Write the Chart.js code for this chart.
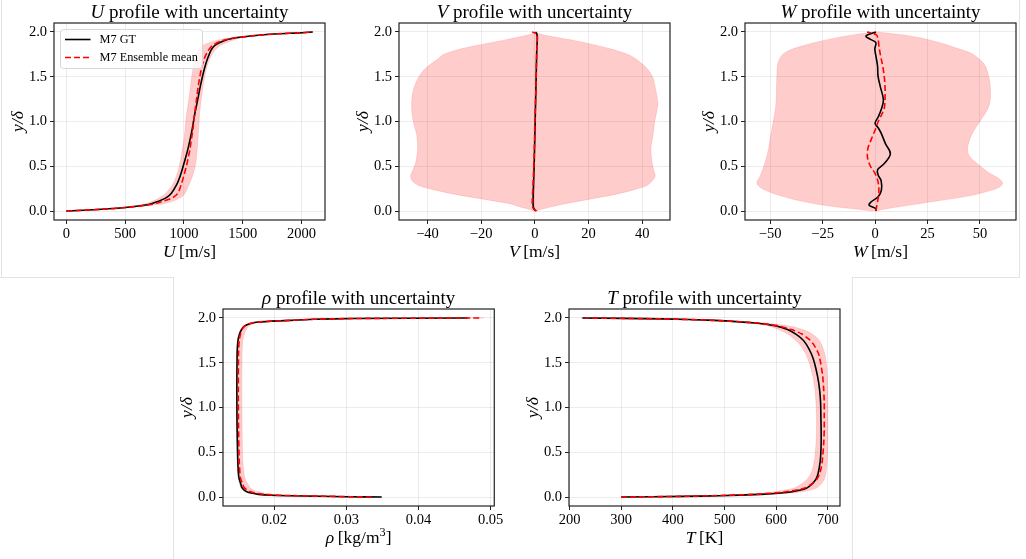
<!DOCTYPE html>
<html>
<head>
<meta charset="utf-8">
<script src="https://cdn.jsdelivr.net/npm/chart.js@4.4.1/dist/chart.umd.min.js"></script>
<style>
html, body { margin: 0; padding: 0; background: #fff; }
#page { position: relative; width: 1026px; height: 559px; overflow: hidden; background: #fff; }
#page canvas { position: absolute; }
.rule { position: absolute; background: #e3e3e3; }
</style>
</head>
<body>
<div id="page">
  <div class="rule" style="left:1px;top:0;width:1px;height:277px"></div>
  <div class="rule" style="left:1019px;top:0;width:1px;height:277px"></div>
  <div class="rule" style="left:0;top:277px;width:174px;height:1px"></div>
  <div class="rule" style="left:852px;top:277px;width:168px;height:1px"></div>
  <div class="rule" style="left:173px;top:277px;width:1px;height:282px"></div>
  <div class="rule" style="left:852px;top:277px;width:1px;height:282px"></div>
  <canvas id="cU"></canvas>
  <canvas id="cV"></canvas>
  <canvas id="cW"></canvas>
  <canvas id="cR"></canvas>
  <canvas id="cT"></canvas>
</div>
<script>
// ---- data ----
const Y_TICKS = [0, 0.5, 1.0, 1.5, 2.0];

// U profile
const U_XTICKS = [0, 500, 1000, 1500, 2000];
const U_Y    = [0, 0.02, 0.04, 0.07, 0.1, 0.15, 0.2, 0.3, 0.4, 0.5, 0.6, 0.7, 0.8, 0.9, 1.0, 1.1, 1.2, 1.3, 1.4, 1.5, 1.6, 1.7, 1.8, 1.85, 1.9, 1.93, 1.96, 1.98, 1.99, 2.0];
const U_GT   = [0, 300, 500, 690, 765, 850, 893, 940, 970, 993, 1015, 1035, 1052, 1068, 1081, 1094, 1110, 1125, 1140, 1157, 1176, 1200, 1232, 1262, 1335, 1420, 1610, 1800, 1980, 2094];
const U_MEAN = [0, 300, 505, 705, 800, 905, 948, 978, 1000, 1020, 1037, 1052, 1063, 1075, 1083, 1092, 1102, 1112, 1122, 1135, 1150, 1172, 1210, 1245, 1320, 1410, 1605, 1800, 1980, 2094];
const U_LO   = [0, 280, 470, 640, 715, 795, 845, 905, 938, 960, 975, 988, 1000, 1008, 1015, 1024, 1036, 1046, 1056, 1066, 1078, 1092, 1120, 1160, 1260, 1370, 1580, 1780, 1970, 2090];
const U_HI   = [0, 330, 545, 770, 885, 972, 1010, 1045, 1075, 1095, 1106, 1113, 1119, 1124, 1129, 1134, 1142, 1152, 1163, 1176, 1192, 1220, 1266, 1310, 1400, 1470, 1640, 1830, 1995, 2100];

// V profile
const V_XTICKS = [-40, -20, 0, 20, 40];
const V_BAND_Y = [0, 0.01, 0.05, 0.08, 0.13, 0.2, 0.28, 0.33, 0.39, 0.45, 0.55, 0.7, 0.85, 1.0, 1.1, 1.2, 1.35, 1.5, 1.6, 1.7, 1.75, 1.82, 1.9, 1.95, 1.98, 2.0];
const V_LO = [-0.5, -1, -6, -9, -18.7, -32, -42.8, -45.5, -46.3, -45.5, -44.3, -43.7, -44, -45.3, -45.8, -45.9, -45.3, -43.2, -40.5, -36, -33.9, -26.3, -13, -5, -1, 0];
const V_HI = [0.5, 1.2, 6.5, 11, 20, 32, 41.3, 43.5, 44.8, 44.3, 43.6, 43.2, 44, 44.6, 45.3, 45.8, 45, 43.8, 41.5, 37.5, 34.5, 27, 15.5, 6, 1.5, 0.5];
const V_GT_Y = [0, 0.02, 0.05, 0.1, 0.3, 0.6, 1.0, 1.4, 1.8, 1.93, 1.98, 2.0];
const V_GT   = [0.4, -0.2, -0.6, -0.7, -0.5, -0.2, 0.1, 0.4, 0.7, 0.9, 0.7, 0.2];
const V_MEAN_Y = [0, 0.02, 0.05, 0.1, 0.3, 0.6, 1.0, 1.4, 1.8, 1.93, 1.97, 1.99, 2.0];
const V_MEAN   = [0.6, -0.4, -0.9, -1.0, -0.7, -0.3, 0.0, 0.4, 0.7, 0.9, 0.8, -0.1, -1.0];

// W profile
const W_XTICKS = [-50, -25, 0, 25, 50];
const W_BAND_Y = [0, 0.02, 0.05, 0.1, 0.17, 0.24, 0.28, 0.32, 0.38, 0.44, 0.5, 0.62, 0.73, 0.88, 1.0, 1.18, 1.37, 1.52, 1.63, 1.7, 1.76, 1.82, 1.88, 1.95, 2.0];
const W_LO = [-1, -8, -20, -33, -45, -53, -55.5, -56.3, -55, -54, -53, -51.5, -50.5, -49.5, -48.5, -47.3, -47, -46.8, -46.5, -45.5, -43.5, -38, -29, -15, 0];
const W_HI = [0.5, 4, 12, 26, 45, 56.5, 60, 60.8, 58, 53.5, 50.3, 44.8, 44.3, 46.7, 50, 54.4, 55, 54, 52.3, 49.5, 46, 38.8, 31, 18, 1];
const W_GT_Y = [0, 0.026, 0.064, 0.1, 0.16, 0.23, 0.34, 0.4, 0.46, 0.53, 0.64, 0.75, 0.87, 0.93, 0.98, 1.05, 1.13, 1.24, 1.39, 1.51, 1.62, 1.72, 1.81, 1.88, 1.92, 1.955, 2.0];
const W_GT   = [0.4, 0.4, -2.8, -2.0, 1.5, 3.0, 2.9, 1.5, 1.2, 4.4, 7.3, 5, 2.9, 1.5, 0.0, 1.5, 2.9, 4.0, 2.5, 1.4, 1.2, 0.5, -0.1, 0.4, -2.4, -4.3, 0.4];
const W_MEAN_Y = [0, 0.08, 0.2, 0.32, 0.42, 0.5, 0.6, 0.7, 0.8, 0.92, 1.0, 1.07, 1.15, 1.3, 1.45, 1.6, 1.75, 1.85, 1.93, 1.97, 2.0];
const W_MEAN   = [0.4, 1.0, 1.8, 1.5, 0.0, -2.2, -3.6, -3.4, -1.8, 0.3, 1.5, 3.0, 4.4, 4.8, 4.6, 3.8, 2.5, 1.8, 1.4, 0.5, -3.8];

// rho profile
const R_XTICKS = [0.02, 0.03, 0.04, 0.05];
const R_Y    = [0, 0.004, 0.009, 0.015, 0.02, 0.03, 0.045, 0.06, 0.08, 0.11, 0.15, 0.22, 0.4, 0.8, 1.2, 1.6, 1.75, 1.83, 1.88, 1.91, 1.935, 1.955, 1.97, 1.985, 1.994, 2.0];
const R_GT   = [0.0349, 0.0300, 0.0262, 0.0220, 0.0195, 0.0178, 0.0168, 0.0162, 0.0158, 0.0155, 0.01535, 0.0151, 0.01495, 0.01485, 0.01482, 0.01486, 0.01498, 0.01523, 0.01555, 0.0159, 0.0166, 0.0178, 0.0215, 0.0255, 0.031, 0.0468];
const R_MEAN = [0.0335, 0.0305, 0.0272, 0.0232, 0.0206, 0.0186, 0.0174, 0.0167, 0.0162, 0.0158, 0.0156, 0.0153, 0.01515, 0.01505, 0.01502, 0.01505, 0.01515, 0.01535, 0.0156, 0.0159, 0.0165, 0.0177, 0.0213, 0.0255, 0.031, 0.0487];
const R_LO   = [0.0335, 0.0290, 0.0255, 0.0215, 0.0192, 0.0175, 0.0166, 0.0160, 0.0156, 0.0153, 0.0152, 0.01497, 0.01485, 0.01478, 0.01476, 0.01478, 0.01488, 0.0151, 0.0154, 0.0157, 0.0163, 0.0175, 0.0210, 0.0250, 0.0305, 0.0465];
const R_HI   = [0.0337, 0.0318, 0.0290, 0.0250, 0.0222, 0.0200, 0.0186, 0.0178, 0.0171, 0.0166, 0.0163, 0.0159, 0.01565, 0.01555, 0.01552, 0.01555, 0.01565, 0.0159, 0.0162, 0.0165, 0.0171, 0.0182, 0.0218, 0.0260, 0.0315, 0.0490];

// T profile
const T_XTICKS = [200, 300, 400, 500, 600, 700];
const T_Y    = [0, 0.007, 0.015, 0.03, 0.05, 0.075, 0.1, 0.15, 0.2, 0.26, 0.35, 0.45, 0.6, 0.75, 0.9, 1.05, 1.2, 1.35, 1.5, 1.6, 1.7, 1.76, 1.82, 1.87, 1.91, 1.943, 1.973, 1.99, 2.0];
const T_GT   = [300, 420, 490, 570, 620, 645, 659, 670, 677, 681, 684, 686, 687, 687, 686.5, 686, 684, 680, 674, 668, 659, 651, 638, 622, 600, 560, 480, 380, 225];
const T_MEAN = [300, 410, 475, 555, 607, 637, 655, 670, 679, 684, 688, 690, 692, 693, 693, 693, 692, 690, 686, 682, 673, 664, 650, 630, 605, 565, 480, 380, 230];
const T_LO   = [300, 400, 460, 535, 585, 615, 635, 650, 660, 667, 672, 675, 677, 678, 678, 677, 675, 671, 664, 657, 646, 636, 622, 605, 585, 550, 470, 375, 222];
const T_HI   = [302, 430, 505, 590, 640, 665, 678, 688, 693, 696, 698, 699, 700, 700, 700, 700, 700, 699, 697, 694, 688, 682, 670, 652, 625, 578, 490, 385, 228];

// ---- helpers ----
const FONT = '"Liberation Serif", "Times New Roman", serif';
const pts = (xs, ys) => xs.map((v, i) => ({ x: v, y: ys[i] }));
const band = (lo, hi, ys) => pts(lo, ys).concat(pts(hi, ys).reverse());
const minus = v => (v < 0 ? '\u2212' + Math.abs(v) : String(v));

function drawRuns(ctx, parts, x, y, size) {
  const fontOf = p => (p.i ? 'italic ' : '') + (p.sup ? size * 0.7 : size) + 'px ' + FONT;
  let w = 0;
  parts.forEach(p => { ctx.font = fontOf(p); w += ctx.measureText(p.t).width; });
  let cx = x - w / 2;
  ctx.textAlign = 'left';
  ctx.textBaseline = 'alphabetic';
  parts.forEach(p => {
    ctx.font = fontOf(p);
    ctx.fillText(p.t, cx, p.sup ? y - size * 0.38 : y);
    cx += ctx.measureText(p.t).width;
  });
}

// frame, titles, axis labels and the legend (mixed italic text)
const decor = {
  id: 'decor',
  afterDraw(chart, args, o) {
    const { ctx, chartArea: a } = chart;
    ctx.save();
    ctx.strokeStyle = '#222';
    ctx.lineWidth = 1.2;
    ctx.strokeRect(a.left, a.top, a.right - a.left, a.bottom - a.top);
    ctx.fillStyle = '#000';
    const mid = (a.left + a.right) / 2;
    drawRuns(ctx, o.title, mid, a.top - 5, 19);
    drawRuns(ctx, o.xlabel, mid, a.bottom + 37, 17.5);
    ctx.save();
    ctx.translate(a.left - 31, (a.top + a.bottom) / 2);
    ctx.rotate(-Math.PI / 2);
    drawRuns(ctx, [{ t: 'y/\u03b4', i: true }], 0, 0, 17.5);
    ctx.restore();

    if (o.legend) {
      const x0 = a.left + 6.5, y0 = a.top + 6.5, w = 142, h = 39, r = 3;
      ctx.beginPath();
      ctx.moveTo(x0 + r, y0);
      ctx.arcTo(x0 + w, y0, x0 + w, y0 + h, r);
      ctx.arcTo(x0 + w, y0 + h, x0, y0 + h, r);
      ctx.arcTo(x0, y0 + h, x0, y0, r);
      ctx.arcTo(x0, y0, x0 + w, y0, r);
      ctx.closePath();
      ctx.fillStyle = 'rgba(255,255,255,0.8)';
      ctx.fill();
      ctx.strokeStyle = '#d6d6d6';
      ctx.lineWidth = 1;
      ctx.stroke();
      o.legend.forEach((idx, k) => {
        const ds = chart.data.datasets[idx];
        const yy = y0 + 10 + k * 18;
        ctx.beginPath();
        ctx.setLineDash(ds.borderDash || []);
        ctx.strokeStyle = ds.borderColor;
        ctx.lineWidth = ds.borderWidth;
        ctx.moveTo(x0 + 4.5, yy);
        ctx.lineTo(x0 + 30, yy);
        ctx.stroke();
        ctx.setLineDash([]);
        ctx.fillStyle = '#000';
        ctx.font = '12.3px ' + FONT;
        ctx.textBaseline = 'middle';
        ctx.fillText(ds.label, x0 + 39, yy + 0.5);
      });
    }
    ctx.restore();
  }
};

function axis(min, max, ticks, fmt, isX) {
  return {
    type: 'linear',
    min: min,
    max: max,
    afterBuildTicks: s => { s.ticks = ticks.map(v => ({ value: v })); },
    afterFit: s => { if (isX) s.height = 52; else s.width = 54; },
    border: { display: false },
    grid: { color: 'rgba(176,176,176,0.3)', lineWidth: 0.8, tickColor: '#222', tickLength: 4, tickWidth: 1 },
    ticks: { color: '#000', font: { family: FONT, size: 14.5 }, padding: isX ? 1.5 : 3, autoSkip: false, maxRotation: 0, callback: fmt }
  };
}

function profile(id, area, d) {
  const cv = document.getElementById(id);
  cv.width = area[2] - area[0] + 64;
  cv.height = area[3] - area[1] + 75;
  cv.style.left = (area[0] - 54) + 'px';
  cv.style.top = (area[1] - 23) + 'px';
  cv.style.width = cv.width + 'px';
  cv.style.height = cv.height + 'px';

  new Chart(cv, {
    type: 'scatter',
    data: {
      datasets: [
        { label: 'M7 Ensemble mean', data: pts(d.mean, d.meanY), showLine: true, borderColor: '#ff0000',
          borderDash: [6, 3], borderWidth: 1.6, pointRadius: 0, tension: d.tension, order: 1 },
        { label: 'M7 GT', data: pts(d.gt, d.gtY), showLine: true, borderColor: '#000000',
          borderWidth: 1.6, pointRadius: 0, tension: d.tension, order: 2 },
        { label: 'band', data: band(d.lo, d.hi, d.bandY), showLine: true, fill: 'shape',
          backgroundColor: 'rgba(255,0,0,0.2)', borderColor: 'rgba(255,0,0,0.12)', borderWidth: 1,
          pointRadius: 0, tension: d.tension, order: 3 }
      ]
    },
    plugins: [decor],
    options: {
      responsive: false,
      animation: false,
      devicePixelRatio: 1,
      events: [],
      layout: { padding: { top: 23, right: 10, left: 0, bottom: 0 } },
      scales: {
        x: axis(d.xmin, d.xmax, d.xticks, d.fmt, true),
        y: axis(-0.1, 2.1, Y_TICKS, v => v.toFixed(1), false)
      },
      plugins: {
        legend: { display: false },
        tooltip: { enabled: false },
        decor: { title: d.title, xlabel: d.xlabel, legend: d.legend }
      }
    }
  });
}

profile('cU', [54, 23, 325, 220], {
  gtY: U_Y, gt: U_GT, meanY: U_Y, mean: U_MEAN, bandY: U_Y, lo: U_LO, hi: U_HI,
  xmin: -105, xmax: 2199, xticks: U_XTICKS, fmt: v => String(v), tension: 0.3,
  title: [{ t: 'U', i: true }, { t: ' profile with uncertainty' }],
  xlabel: [{ t: 'U', i: true }, { t: '\u2009[m/s]' }],
  legend: [1, 0]
});

profile('cV', [399, 23, 670, 220], {
  gtY: V_GT_Y, gt: V_GT, meanY: V_MEAN_Y, mean: V_MEAN, bandY: V_BAND_Y, lo: V_LO, hi: V_HI,
  xmin: -50.6, xmax: 50.3, xticks: V_XTICKS, fmt: minus, tension: 0.3,
  title: [{ t: 'V', i: true }, { t: ' profile with uncertainty' }],
  xlabel: [{ t: 'V', i: true }, { t: '\u2009[m/s]' }]
});

profile('cW', [745, 23, 1016, 220], {
  gtY: W_GT_Y, gt: W_GT, meanY: W_MEAN_Y, mean: W_MEAN, bandY: W_BAND_Y, lo: W_LO, hi: W_HI,
  xmin: -62, xmax: 67.2, xticks: W_XTICKS, fmt: minus, tension: 0.35,
  title: [{ t: 'W', i: true }, { t: ' profile with uncertainty' }],
  xlabel: [{ t: 'W', i: true }, { t: '\u2009[m/s]' }]
});

profile('cR', [223, 309, 495, 506], {
  gtY: R_Y, gt: R_GT, meanY: R_Y, mean: R_MEAN, bandY: R_Y, lo: R_LO, hi: R_HI,
  xmin: 0.0129, xmax: 0.0505, xticks: R_XTICKS, fmt: v => v.toFixed(2), tension: 0.2,
  title: [{ t: '\u03c1', i: true }, { t: ' profile with uncertainty' }],
  xlabel: [{ t: '\u03c1', i: true }, { t: '\u2009[kg/m' }, { t: '3', sup: true }, { t: ']' }]
});

profile('cT', [569, 309, 840, 506], {
  gtY: T_Y, gt: T_GT, meanY: T_Y, mean: T_MEAN, bandY: T_Y, lo: T_LO, hi: T_HI,
  xmin: 199, xmax: 723.5, xticks: T_XTICKS, fmt: v => String(v), tension: 0.2,
  title: [{ t: 'T', i: true }, { t: ' profile with uncertainty' }],
  xlabel: [{ t: 'T', i: true }, { t: '\u2009[K]' }]
});
</script>
</body>
</html>
